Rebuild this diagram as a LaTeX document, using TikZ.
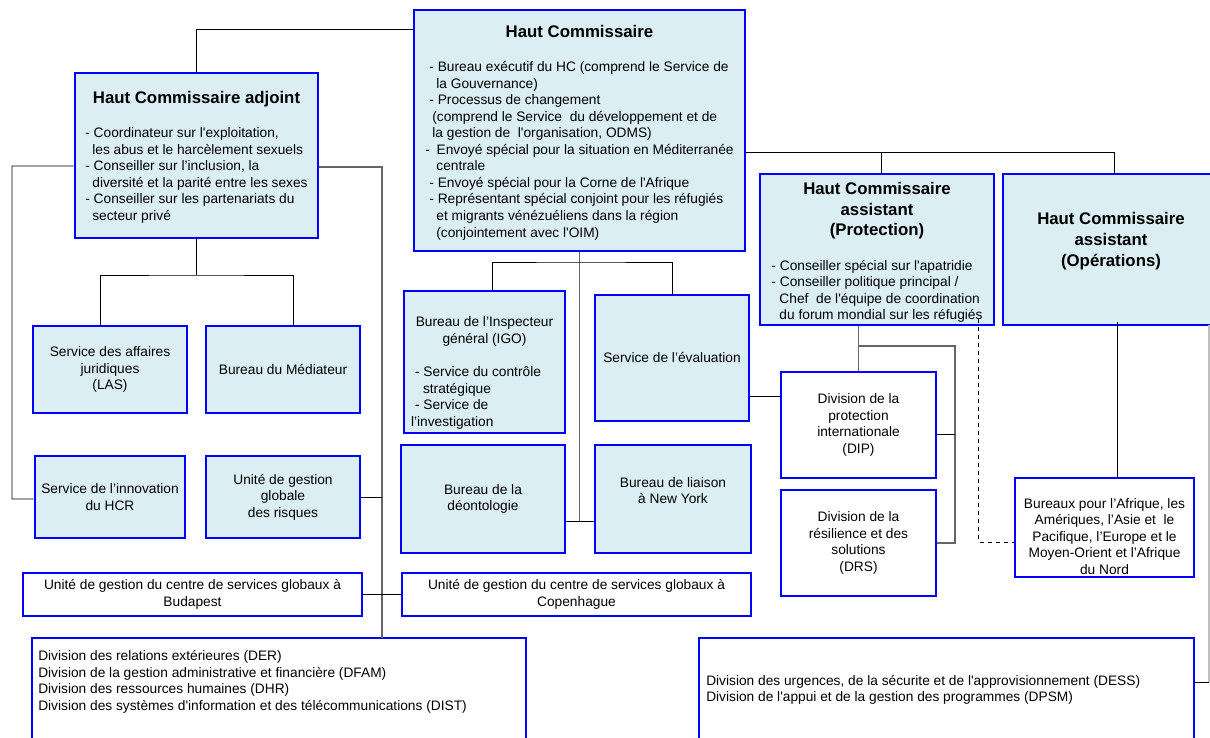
\documentclass[tikz,border=0pt]{standalone}
\usepackage{fontspec}
\newfontfamily\orgfont{Liberation Sans}[Ligatures=TeXOff]
\usetikzlibrary{positioning,calc}
\definecolor{hcrBleu}{RGB}{0,0,255}
\definecolor{hcrFond}{RGB}{219,238,244}
\newcommand{\titreHC}[1]{{\fontsize{12.6}{15}\bfseries #1}}
\tikzset{
    boite/.style={
           rectangle,
           draw=hcrBleu, line width=2pt,
           fill=hcrFond,
           align=center,
           inner sep=0pt,
           font=\orgfont\fontsize{10.3}{12.4}\selectfont},
    boiteBlanche/.style={
           boite,
           fill=white},
    taille/.style 2 args={
           minimum width=#1*0.75pt,
           minimum height=#2*0.75pt},
    texte/.style={
           inner sep=0pt,
           font=\orgfont\fontsize{10.3}{12.4}\selectfont},
    titre/.style={
           inner sep=0pt, align=center,
           font=\orgfont\bfseries\fontsize{12.6}{15.75}\selectfont},
    lien/.style={
           draw=black, line width=0.65pt},
    lienGris/.style={
           draw=black!60, line width=1.1pt},
    lienTirets/.style={
           lien, dashed}
}

\begin{document}
\begin{tikzpicture}[x=0.75pt, y=-0.75pt]
	\path[use as bounding box, clip] (0,0) rectangle (1210,738);

	% direction
	\node[boite, taille={331}{241}] (hc) at (579.5,130.5) {\rule{0pt}{13.6pt}\titreHC{Haut Commissaire}\\[13.5pt]
		\begin{tabular}[t]{@{}l@{}}
		\hspace*{3pt}- Bureau exécutif du HC (comprend le Service de\\
		\hspace*{8.25pt}la Gouvernance)\\
		\hspace*{3pt}- Processus de changement\\
		\hspace*{5.25pt}(comprend le Service \ du développement et de\\
		\hspace*{5.25pt}la gestion de \ l'organisation, ODMS)\\
		-\hspace*{5pt}Envoyé spécial pour la situation en Méditerranée\\
		\hspace*{8.25pt}centrale\\
		\hspace*{3pt}- Envoyé spécial pour la Corne de l'Afrique\\
		\hspace*{3pt}- Représentant spécial conjoint pour les réfugiés\\
		\hspace*{8.25pt}et migrants vénézuéliens dans la région\\
		\hspace*{8.25pt}(conjointement avec l'OIM)
		\end{tabular}};
	\node[boite, taille={243}{165}] (hcadj) at (196.5,155.5) {\rule{0pt}{13.6pt}\titreHC{Haut Commissaire adjoint}\\[13pt]
		\begin{tabular}[t]{@{}l@{}}
		- Coordinateur sur l'exploitation,\\
		\hspace*{5.25pt}les abus et le harcèlement sexuels\\
		- Conseiller sur l’inclusion, la\\
		\hspace*{5.25pt}diversité et la parité entre les sexes\\
		- Conseiller sur les partenariats du\\
		\hspace*{5.25pt}secteur privé
		\end{tabular}};
	\node[boite, taille={234}{151}] (prot) at (877,249.5) {\rule{0pt}{15.1pt}\titreHC{Haut Commissaire}\\[3pt]\titreHC{assistant}\\[3pt]\titreHC{(Protection)}\\[13.5pt]
		\begin{tabular}[t]{@{}l@{}}
		- Conseiller spécial sur l'apatridie\\
		- Conseiller politique principal /\\
		\hspace*{6pt}Chef \ de l'équipe de coordination\\
		\hspace*{6pt}du forum mondial sur les réfugiés
		\end{tabular}};
	\node[boite, taille={216}{151}] (ops) at (1111,249.5) {};
	\node[titre] (opsT) at (1111,241) {Haut Commissaire\\assistant\\(Opérations)};

	% services rattaches
	\node[boite, taille={154}{87}] (las) at (110,369.5) {Service des affaires\\juridiques\\(LAS)};
	\node[boite, taille={154}{87}] (med) at (283,369.5) {Bureau du Médiateur};
	\node[boite, taille={150}{82}] (innov) at (110,497) {Service de l’innovation\\du HCR};
	\node[boite, taille={154}{82}] (risk) at (283,497) {Unité de gestion\\globale\\des risques};
	\node[boite, taille={161}{142}] (igo) at (484.5,362) {\rule{0pt}{25.5pt}Bureau de l’Inspecteur\\général (IGO)\\[12.4pt]
		\begin{tabular}[t]{@{}l@{}}
		\hspace*{3pt}- Service du contrôle\hspace*{12.75pt}\\
		\hspace*{9pt}stratégique\\
		\hspace*{3pt}- Service de\\
		l’investigation
		\end{tabular}};
	\node[boite, taille={154}{126}] (eval) at (672,358) {Service de l’évaluation};
	\node[boite, taille={164}{108}] (deo) at (483,499) {Bureau de la\\déontologie};
	\node[boite, taille={156}{108}] (ny) at (673,499) {Bureau de liaison\\à New York\rule[-13pt]{0pt}{13pt}};
	\node[boiteBlanche, taille={339}{43}] (buda) at (192.5,594.5) {Unité de gestion du centre de services globaux à\\Budapest};
	\node[boiteBlanche, taille={349}{43}] (cope) at (576.5,594.5) {Unité de gestion du centre de services globaux à\\Copenhague};
	\node[boiteBlanche, taille={155}{106}] (dip) at (858.5,425) {Division de la\\protection\\internationale\\(DIP)};
	\node[boiteBlanche, taille={155}{106}] (drs) at (858.5,543) {Division de la\\résilience et des\\solutions\\(DRS)};
	\node[boiteBlanche, taille={179}{99}] (bur) at (1104.5,527.5) {};
	\node[texte, align=center] (burT) at (1104.5,536.5) {Bureaux pour l’Afrique, les\\Amériques, l’Asie et \ le\\Pacifique, l’Europe et le\\Moyen-Orient et l’Afrique\\du Nord};

	% divisions
	\node[boiteBlanche, taille={494}{130}] (divL) at (279,703) {};
	\node[texte, align=left, anchor=west] (divLT) at (38,682) {Division des relations extérieures (DER)\\Division de la gestion administrative et financière (DFAM)\\Division des ressources humaines (DHR)\\Division des systèmes d'information et des télécommunications (DIST)};
	\node[boiteBlanche, taille={495}{130}] (divR) at (946.5,703) {};
	\node[texte, align=left, anchor=west] (divRT) at (706,690) {Division des urgences, de la sécurite et de l'approvisionnement (DESS)\\Division de l'appui et de la gestion des programmes (DPSM)};

	% liens
	\coordinate (jHaut) at (881,152);
	\coordinate (jAdj) at (196.5,275);
	\coordinate (jHC) at (579.5,262);
	\coordinate (jHCbas) at (579.5,521);
	\coordinate (jGauche) at (12,166);
	\coordinate (jDroite) at (382,638);
	\coordinate (jProt) at (955,346);
	\coordinate (jOps) at (1209,325);
	\coordinate (jOpsBas) at (1209,682);

	\draw[lien] ([yshift=-15.75pt]hc.north west) -| (hcadj.north);
	\draw[lien] ([yshift=-16.1pt]hc.east) -| ([xshift=2.25pt]ops.north);
	\draw[lien] (jHaut) -- (prot.north -| jHaut);
	\draw[lienGris] (hc.south) -- (jHCbas);
	\draw[lien] ([xshift=5.6pt]igo.north) |- (jHC) -| (eval.north);
	\draw[lien] ([yshift=-16.5pt]deo.east) -- ([yshift=-16.5pt]deo.east -| ny.west);
	\draw[lien] (hcadj.south) -- (jAdj);
	\draw[lien] ([xshift=-7.5pt]las.north) |- (jAdj) -| ([xshift=7.5pt]med.north);
	\draw[lien] ([yshift=-7.9pt]hcadj.west) -- (jGauche) |- ([yshift=-1.5pt]innov.west);
	\draw[lienGris] ([yshift=-8.6pt]hcadj.east) -| (jDroite);
	\draw[lien] (risk.east) -- (risk.east -| jDroite);
	\draw[lien] (buda.east) -- (cope.west);
	\draw[lienGris] (prot.south -| dip.north) -- (dip.north);
	\draw[lienGris] (dip.north |- jProt) -- (jProt) |- (drs.east);
	\draw[lien] ([yshift=-6.75pt]dip.east) -- ([yshift=-6.75pt]dip.east -| jProt);
	\draw[lien] ([yshift=-28.5pt]eval.east) -- ([yshift=-28.5pt]eval.east -| dip.west);
	\draw[lienTirets] ([xshift=-12.75pt,yshift=5.25pt]prot.south east) |- ([yshift=-10.9pt]bur.west);
	\draw[lien] ([xshift=4.5pt,yshift=3pt]ops.south) -- ([xshift=4.5pt]ops.south |- bur.north);
	\draw[lien] ([yshift=15.75pt]divR.east) -- (jOpsBas);
	\draw[draw=black!25, line width=0.8pt] (jOps) -- (jOpsBas);
\end{tikzpicture}
\end{document}
